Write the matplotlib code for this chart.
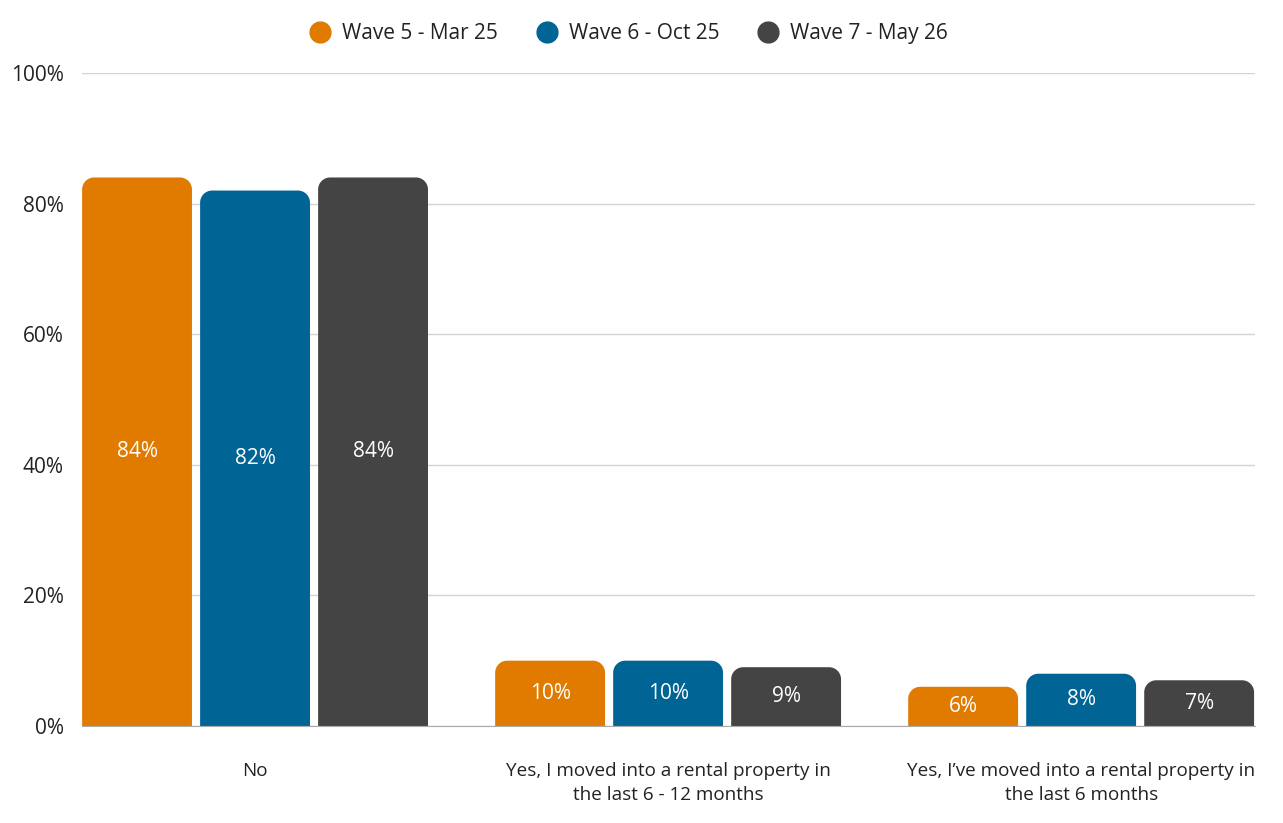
import matplotlib.pyplot as plt
from matplotlib.path import Path
from matplotlib.patches import PathPatch
from matplotlib.lines import Line2D

plt.rcParams['font.family'] = ['Open Sans', 'DejaVu Sans']

categories = ['No', 'Yes, I moved into a rental property in\nthe last 6 - 12 months',
              "Yes, I\u2019ve moved into a rental property in\nthe last 6 months"]
series = ['Wave 5 - Mar 25', 'Wave 6 - Oct 25', 'Wave 7 - May 26']
wave5 = [84, 10, 6]
wave6 = [82, 10, 8]
wave7 = [84, 9, 7]
colors = ['#E07B00', '#006595', '#444444']

fig = plt.figure(figsize=(12.83, 8.23), dpi=100)
ax = fig.add_axes([0.0639, 0.1179, 0.9143, 0.7934])

step = 0.2857
width = 0.266
x = range(len(categories))
ax.set_xlim(-0.419, 2.421)
ax.set_ylim(0, 100)

# pixel -> data scale for rounded corners
ax_w_px = 0.9143 * 1283
ax_h_px = 0.7934 * 823
rpx = 12
rx = rpx * (2.421 + 0.419) / ax_w_px
ry = rpx * 100 / ax_h_px
k = 0.5523

for i, (vals, col) in enumerate(zip([wave5, wave6, wave7], colors)):
    xs = [c + (i - 1) * step for c in x]
    bars = ax.bar(xs, vals, width=width, color=col, alpha=0)
    for b, v in zip(bars, vals):
        x0, y0 = b.get_x(), b.get_y()
        x1, y1 = x0 + b.get_width(), y0 + b.get_height()
        verts = [(x0, y0), (x0, y1 - ry),
                 (x0, y1 - ry + k * ry), (x0 + rx - k * rx, y1), (x0 + rx, y1),
                 (x1 - rx, y1),
                 (x1 - rx + k * rx, y1), (x1, y1 - ry + k * ry), (x1, y1 - ry),
                 (x1, y0), (x0, y0)]
        codes = [Path.MOVETO, Path.LINETO,
                 Path.CURVE4, Path.CURVE4, Path.CURVE4,
                 Path.LINETO,
                 Path.CURVE4, Path.CURVE4, Path.CURVE4,
                 Path.LINETO, Path.CLOSEPOLY]
        ax.add_patch(PathPatch(Path(verts, codes), facecolor=col, edgecolor='none', zorder=3))
        ax.text(x0 + b.get_width() / 2, v / 2, f'{v}%', ha='center', va='center',
                color='white', fontsize=15, zorder=4)

ax.set_yticks([0, 20, 40, 60, 80, 100])
ax.set_yticklabels([f'{t}%' for t in [0, 20, 40, 60, 80, 100]])
ax.set_xticks(list(x))
ax.set_xticklabels(categories, fontsize=13.6, color='#222222', linespacing=1.45)
ax.tick_params(axis='y', length=0, pad=13, labelsize=15, labelcolor='#222222')
ax.tick_params(axis='x', length=0, pad=26)
ax.grid(axis='y', color='#d3d3d3', linewidth=1, zorder=0)
ax.set_axisbelow(True)
for s in ['top', 'right', 'left']:
    ax.spines[s].set_visible(False)
ax.spines['bottom'].set_color('#aaaaaa')
ax.spines['bottom'].set_zorder(5)

handles = [Line2D([], [], marker='o', linestyle='none', markersize=15,
                  markerfacecolor=c, markeredgecolor=c) for c in colors]
fig.legend(handles, series, loc='center', bbox_to_anchor=(0.49, 0.959), ncol=3,
           frameon=False, fontsize=15, handletextpad=0.55, handlelength=1.0,
           columnspacing=1.85, labelcolor='#222222')

plt.savefig('out.png', dpi=100)
